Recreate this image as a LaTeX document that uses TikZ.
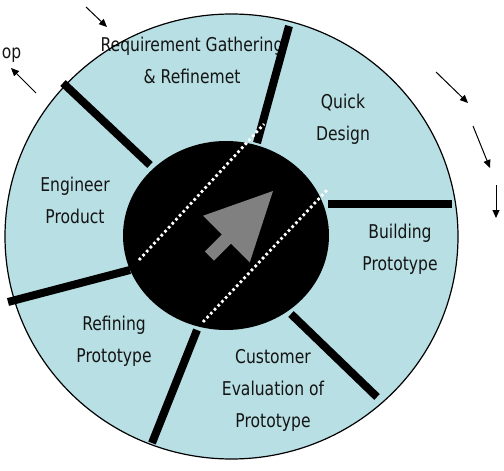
\documentclass[tikz,border=0pt]{standalone}
\usepackage{fontspec}
\setmainfont{DejaVu Sans}[FakeStretch=0.82]
\usetikzlibrary{arrows.meta}
\definecolor{cyclefill}{RGB}{184,224,228}
\definecolor{cyclegray}{RGB}{128,128,128}
\definecolor{cycletext}{RGB}{20,20,20}

\begin{document}
\begin{tikzpicture}[x=1pt, y=-1pt,
  phase/.style={align=center, text=cycletext, inner sep=0pt,
                font=\fontsize{19}{32}\selectfont},
  spoke/.style={line width=8pt, black},
  dots/.style={white, line width=2.8pt, dash pattern=on 2.6pt off 2.8pt},
  flow/.style={-{Triangle[length=8pt, width=7pt]}, line width=1pt}
]
  \useasboundingbox (0,0) rectangle (504,471);

  % wheel
  \fill[cyclefill] (231.5,236.5) ellipse [x radius=226.5pt, y radius=222.5pt];

  \node[phase] (req)   at (192,60)   {Requirement Gathering\\\& Refinemet};
  \node[phase] (quick) at (343,119.5){Quick\\Design};
  \node[phase] (build) at (400,249.5){Building\\Prototype};
  \node[phase] (cust)  at (273,390)  {Customer\\Evaluation of\\Prototype};
  \node[phase] (refine)at (114,341)  {Refining\\Prototype};
  \node[phase] (eng)   at (75,200.5) {Engineer\\Product};
  \node[phase, anchor=base east] (loop) at (21.5,58) {op};

  \draw[line width=1.2pt] (231.5,236.5) ellipse [x radius=226.5pt, y radius=222.5pt];

  % spokes
  \draw[spoke] (289,26) -- (257,143);
  \draw[spoke] (328,204) -- (452,204);
  \draw[spoke] (291,314) -- (377,397);
  \draw[spoke] (197,330) -- (152,443);
  \draw[spoke] (130,270) -- (8,302);
  \draw[spoke] (150,165) -- (63,83);

  % hub
  \fill[black] (226,235.5) ellipse [x radius=103pt, y radius=94.5pt];
  \draw[dots] (139,260) -- (264,124);
  \draw[dots] (203,322) -- (328,189);
  \fill[cyclegray] (273,191) -- (249.8,262.3) -- (231.1,243.6) -- (214.1,260.6)
    -- (204.9,251.4) -- (221.9,234.4) -- (203.2,215.7) -- cycle;

  % direction arrows
  \coordinate (t1) at (86,7);    \coordinate (h1) at (107,27);
  \coordinate (t2) at (36,93);   \coordinate (h2) at (11,68);
  \coordinate (t3) at (436,72);  \coordinate (h3) at (468,103);
  \coordinate (t4) at (473,126); \coordinate (h4) at (490,168);
  \coordinate (t5) at (496,185); \coordinate (h5) at (496,218);
  \draw[flow] (t1) -- (h1);
  \draw[flow] (t2) -- (h2);
  \draw[flow] (t3) -- (h3);
  \draw[flow] (t4) -- (h4);
  \draw[flow] (t5) -- (h5);
\end{tikzpicture}
\end{document}
